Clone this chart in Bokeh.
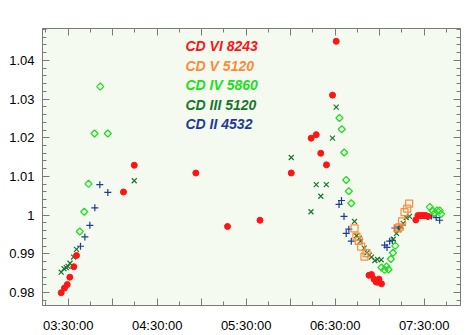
from bokeh.plotting import figure
from bokeh.models import Range1d, LinearAxis, FixedTicker, Label, CustomJSTickFormatter
from bokeh.embed import file_html
from bokeh.resources import INLINE

# time in decimal hours, value = relative intensity
cd6_t = [3.421, 3.458, 3.489, 3.518, 3.563, 3.593, 4.121, 4.242, 4.934, 5.290, 5.655,
         6.006, 6.230, 6.287, 6.338, 6.402, 6.470, 6.511,
         6.880, 6.908, 6.936, 6.958, 6.975, 6.992, 7.020,
         7.406, 7.430, 7.453, 7.475, 7.498, 7.520, 7.543]
cd6_v = [0.9800, 0.9812, 0.9821, 0.9840, 0.9867, 0.9896, 1.0060, 1.0129, 1.0109, 0.9971, 0.9987,
         1.0109, 1.0199, 1.0208, 1.0160, 1.0130, 1.0310, 1.0449,
         0.9845, 0.9847, 0.9835, 0.9828, 0.9827, 0.9835, 0.9823,
         0.9988, 0.9999, 0.9999, 0.9999, 0.9999, 0.9999, 0.9997]

cd5_t = [6.717, 6.739, 6.765, 6.792, 6.829, 6.852, 7.200, 7.222, 7.251, 7.279, 7.309, 7.331]
cd5_v = [0.9966, 0.9945, 0.9934, 0.9919, 0.9893, 0.9902, 0.9966, 0.9969, 0.9984, 1.0008, 1.0017, 1.0030]

cd4_t = [3.630, 3.680, 3.728, 3.796, 3.860, 3.945,
         6.548, 6.574, 6.601, 6.624, 6.653, 6.681,
         7.020, 7.054, 7.076, 7.099, 7.125, 7.149, 7.175,
         7.563, 7.593, 7.616, 7.644, 7.675, 7.691]
cd4_v = [0.9958, 1.0009, 1.0081, 1.0211, 1.0332, 1.0211,
         1.0251, 1.0222, 1.0162, 1.0091, 1.0062, 1.0031,
         0.9865, 0.9859, 0.9868, 0.9860, 0.9887, 0.9903, 0.9921,
         1.0021, 1.0012, 1.0005, 1.0012, 1.0012, 1.0003]

cd3_t = [3.421, 3.453, 3.478, 3.498, 3.520, 3.560, 3.593, 4.242,
         6.006, 6.228, 6.287, 6.338, 6.400, 6.470, 6.511,
         6.717, 6.739, 6.770, 6.784, 6.826, 6.857, 6.885, 6.908, 6.945, 6.975, 7.017,
         7.152, 7.189, 7.215, 7.242, 7.264, 7.298, 7.335]
cd3_v = [0.9853, 0.9862, 0.9865, 0.9868, 0.9876, 0.9892, 0.9912, 1.0089,
         1.0149, 1.0009, 1.0079, 1.0049, 1.0079, 1.0199, 1.0279,
         0.9984, 0.9947, 0.9941, 0.9933, 0.9915, 0.9903, 0.9897, 0.9892, 0.9883, 0.9886, 0.9885,
         0.9938, 0.9953, 0.9962, 0.9970, 0.9979, 0.9994, 0.9997]

cd2_t = [3.638, 3.687, 3.743, 3.799, 3.855, 3.945,
         6.543, 6.571, 6.599, 6.624, 6.653, 6.681,
         7.056, 7.082, 7.112, 7.142, 7.170, 7.215,
         7.540, 7.582, 7.635, 7.674]
cd2_v = [0.9920, 0.9944, 0.9974, 1.0019, 1.0079, 1.0059,
         1.0028, 1.0038, 0.9997, 0.9953, 0.9964, 0.9933,
         0.9923, 0.9917, 0.9933, 0.9935, 0.9967, 0.9970,
         0.9997, 0.9998, 0.9994, 0.9987]

series_names = ["CD VI 8243", "CD V 5120", "CD IV 5860", "CD III 5120", "CD II 4532"]
series_colors = ["#ff1414", "#ff8a3a", "#22dd22", "#17762c", "#1c3a9a"]

x_major = [3.0, 3.5, 4.0, 4.5, 5.0, 5.5, 6.0, 6.5, 7.0, 7.5, 8.0]
x_minor = [3.25, 3.75, 4.25, 4.75, 5.25, 5.75, 6.25, 6.75, 7.25, 7.75]
y_major = [0.98, 0.99, 1.00, 1.01, 1.02, 1.03, 1.04]
y_minor = [round(0.976 + 0.002 * i, 3) for i in range(37)]

FONT = "Liberation Sans"
GRAY = "#7a7a7a"

p = figure(width=474, height=335, output_backend="svg", toolbar_location=None,
           x_range=Range1d(3.211, 7.908), y_range=Range1d(0.9767, 1.0482),
           min_border_left=42, min_border_right=14, min_border_top=28, min_border_bottom=28)
p.background_fill_color = "#f5faf0"
p.border_fill_color = "white"
p.outline_line_color = GRAY
p.grid.visible = False

xfmt = CustomJSTickFormatter(code="""
const h = Math.floor(tick + 1e-6);
const m = Math.round((tick - h) * 60);
if (m !== 30) { return ""; }
return (h < 10 ? "0" : "") + h + ":30:00";
""")
yfmt = CustomJSTickFormatter(code="return String(parseFloat(tick.toFixed(3)));")
blank = CustomJSTickFormatter(code="return '';")

def style(ax, labels=True):
    ax.axis_line_color = GRAY
    ax.major_tick_line_color = GRAY
    ax.minor_tick_line_color = GRAY
    ax.major_tick_in = 7
    ax.major_tick_out = 0
    ax.minor_tick_in = 4
    ax.minor_tick_out = 0
    ax.major_label_text_font = FONT
    ax.major_label_text_font_size = "13px" if labels else "0px"
    ax.major_label_text_color = "black"

p.xaxis.ticker = FixedTicker(ticks=x_major, minor_ticks=x_minor)
p.xaxis.formatter = xfmt
p.xaxis.major_label_standoff = 12
p.yaxis.ticker = FixedTicker(ticks=y_major, minor_ticks=y_minor)
p.yaxis.formatter = yfmt
p.yaxis.major_label_standoff = 8
style(p.xaxis[0])
style(p.yaxis[0])

top = LinearAxis(ticker=FixedTicker(ticks=x_major, minor_ticks=x_minor), formatter=blank)
style(top, labels=False)
p.add_layout(top, "above")
right = LinearAxis(ticker=FixedTicker(ticks=y_major, minor_ticks=y_minor), formatter=blank)
style(right, labels=False)
p.add_layout(right, "right")

p.scatter(cd2_t, cd2_v, marker="cross", size=7, line_color=series_colors[4], line_width=1.2)
p.scatter(cd3_t, cd3_v, marker="x", size=7, line_color=series_colors[3], line_width=1.2)
p.scatter(cd4_t, cd4_v, marker="square", angle=0.785, size=5, line_color=series_colors[2],
          fill_color=None, line_width=1.3)
p.scatter(cd5_t, cd5_v, marker="square", size=7, line_color=series_colors[1], fill_color=None, line_width=1.2)
p.scatter(cd6_t, cd6_v, marker="circle", size=6, line_color=series_colors[0], fill_color=series_colors[0])

label_y = [1.0436, 1.0386, 1.0336, 1.0285, 1.0236]
for name, col, ly in zip(series_names, series_colors, label_y):
    p.add_layout(Label(x=4.818, y=ly, text=name, text_color=col, text_font=FONT,
                       text_font_style="bold italic", text_font_size="14px",
                       text_baseline="middle"))

open("out.html", "w").write(file_html(p, INLINE))
